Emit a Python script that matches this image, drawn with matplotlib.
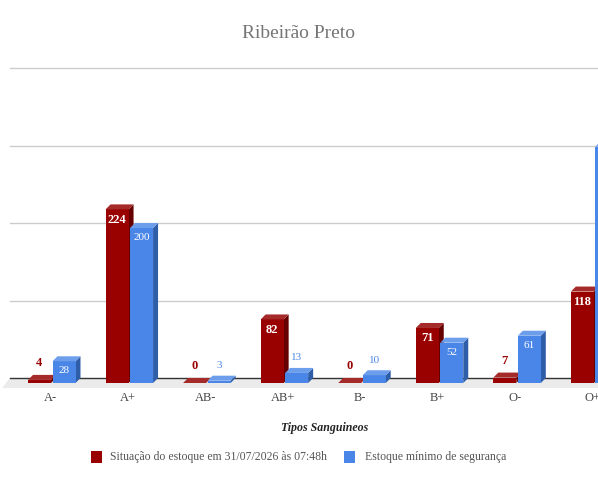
import matplotlib
matplotlib.use("Agg")
import matplotlib.pyplot as plt
from matplotlib.patches import Polygon, Rectangle
from matplotlib.lines import Line2D

categories = ["A-", "A+", "AB-", "AB+", "B-", "B+", "O-", "O+"]
estoque = [4, 224, 0, 82, 0, 71, 7, 118]
minimo = [28, 200, 3, 13, 10, 52, 61, 305]
series_names = ["Situação do estoque em 31/07/2026 às 07:48h", "Estoque mínimo de segurança"]
gridvals = [100, 200, 300, 400]

W, H = 598, 487
PXX = 77.55  # px per category
PXY = 0.775  # px per unit
plt.rcParams['font.family'] = ['Liberation Serif', 'DejaVu Serif']

fig = plt.figure(figsize=(W/100, H/100), dpi=100)
ax = fig.add_axes([10/W, (H-400)/H, 620/W, 360/H])
xmin = -40/PXX
ax.set_xlim(xmin, xmin + 620/PXX)
ax.set_ylim(-17/PXY, -17/PXY + 360/PXY)
ax.axis('off')

dx = 5/PXX
dy = 5/PXY
bw = 23/PXX
offs = [-22/PXX, 2.5/PXX]

xend = xmin + 620/PXX + 1

# floor
floor = Polygon([(xmin, dy), (xend, dy), (xend, -dy), (xmin - 8/PXX, -dy)],
                closed=True, facecolor='#ebebeb', edgecolor='none', clip_on=False, zorder=1)
ax.add_patch(floor)
# gridlines on back wall
for g in gridvals:
    ax.add_line(Line2D([xmin, xend], [g + dy, g + dy], color='#cccccc', lw=1.0, clip_on=False, zorder=0.5))
ax.add_line(Line2D([xmin, xend], [dy, dy], color='#333333', lw=1.0, clip_on=False, zorder=1.5))

cols = [
    dict(front='#990000', top='#a52a2a', side='#660000', lab_out='#990000', bold=True, fs=9.0,
         in_off=10.5, out_off=17),
    dict(front='#4a86e8', top='#6d9eeb', side='#2f5ea8', lab_out='#4a86e8', bold=False, fs=8.0,
         in_off=9.5, out_off=15),
]

for i, cat in enumerate(categories):
    for s, vals in enumerate([estoque, minimo]):
        c = cols[s]
        h = vals[i]
        x0 = i + offs[s]
        front = Rectangle((x0, 0), bw, h, facecolor=c['front'], edgecolor='none', zorder=3, clip_on=False)
        top = Polygon([(x0, h), (x0 + bw, h), (x0 + bw + dx, h + dy), (x0 + dx, h + dy)],
                      closed=True, facecolor=c['top'], edgecolor='none', zorder=3, clip_on=False)
        side = Polygon([(x0 + bw, 0), (x0 + bw, h), (x0 + bw + dx, h + dy), (x0 + bw + dx, dy)],
                       closed=True, facecolor=c['side'], edgecolor='none', zorder=3, clip_on=False)
        ax.add_patch(side)
        ax.add_patch(front)
        ax.add_patch(top)
        hp = h * PXY
        if hp > 15:
            ty = h - c['in_off']/PXY
            tc = 'white'
        else:
            ty = h + c['out_off']/PXY
            tc = c['lab_out']
        ax.text(x0 + bw/2, ty, str(h), ha='center', va='center', color=tc, fontsize=c['fs'],
                fontweight='bold' if c['bold'] else 'normal', zorder=5)
    ax.text(i, -15/PXY, cat, ha='center', va='center', color='#444444', fontsize=9, zorder=5)

fig.text(298/W, 1 - 34/H, "Ribeirão Preto", ha='center', va='center', color='#757575', fontsize=14)
fig.text(325/W, 1 - 428/H, "Tipos Sanguineos", ha='center', va='center', color='#222222',
         fontsize=8.6, fontweight='bold', fontstyle='italic')

# legend
ly = 1 - 457/H
fig.patches.append(Rectangle((91/W, ly - 6/H), 11/W, 12/H, transform=fig.transFigure,
                             facecolor='#990000', edgecolor='none'))
fig.text(110/W, ly, series_names[0], ha='left', va='center', color='#555555', fontsize=8.5)
fig.patches.append(Rectangle((344/W, ly - 6/H), 11/W, 12/H, transform=fig.transFigure,
                             facecolor='#4a86e8', edgecolor='none'))
fig.text(365/W, ly, series_names[1], ha='left', va='center', color='#555555', fontsize=8.5)

fig.savefig("out.png", dpi=100)
